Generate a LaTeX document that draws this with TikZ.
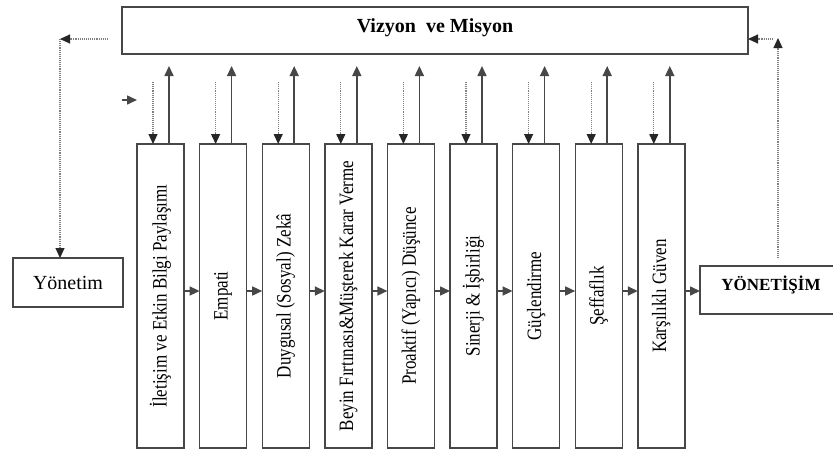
\documentclass[tikz,border=0pt]{standalone}
\usepackage{fontspec}
\setmainfont{Liberation Serif}
\usetikzlibrary{arrows.meta,calc}
\begin{document}
\begin{tikzpicture}[x=1pt,y=-1pt,
  linecol/.style={draw=black!72},
  boxst/.style={linecol,line width=1.4pt,inner sep=0pt,outer sep=0pt},
  colbox/.style={boxst,minimum width=47pt,minimum height=304pt},
  coltxt/.style={rotate=90,font=\fontsize{17}{20}\selectfont,text=black,inner sep=0pt},
  solidarr/.style={linecol,line width=1.6pt,-{Triangle[length=10pt,width=9pt]}},
  dotarr/.style={draw=black!50,line width=1.1pt,densely dotted,-{Triangle[length=10pt,width=9pt,color=black!85,fill=black!85]}}]
\useasboundingbox (0,0) rectangle (833,453);
\fill[white] (0,0) rectangle (833,453);
% top box
\node[boxst,minimum width=626pt,minimum height=47pt] (vm) at (435,30.5) {};
\node[font=\fontsize{20}{23}\selectfont\bfseries,text=black] (vmt) at (435,28) {Vizyon\ \ ve Misyon};
% columns
\foreach \i/\t in {1/{İletişim ve Etkin Bilgi Paylaşımı},2/{Empati},3/{Duygusal (Sosyal) Zekâ},4/{Beyin Fırtınası\&Müşterek Karar Verme},5/{Proaktif (Yapıcı) Düşünce},6/{Sinerji \& İşbirliği},7/{Güçlendirme},8/{Şeffaflık},9/{Karşılıklı Güven}}{
  \node[colbox] (b\i) at ({160.5+62.6*(\i-1)},296) {};
  \node[coltxt] (l\i) at (b\i) {\scalebox{1}[1.2]{\t}};
  \draw[dotarr] ([xshift=16pt,yshift=62pt]b\i.north west) -- ([xshift=16pt]b\i.north west);
  \draw[solidarr] ([xshift=32pt]b\i.north west) -- ([xshift=32pt,yshift=78pt]b\i.north west);
}
\foreach \i/\j in {1/2,2/3,3/4,4/5,5/6,6/7,7/8,8/9}{
  \draw[solidarr] ([yshift=5pt]b\i.east) -- ([yshift=5pt]b\j.west);
}
% side boxes
\node[boxst,minimum width=110pt,minimum height=49pt,font=\fontsize{20}{23}\selectfont,text=black] (yon) at (68,282.5) {Yönetim};
\node[boxst,minimum width=140pt,minimum height=48pt] (yns) at (770,290) {};
\node[font=\fontsize{17}{20}\selectfont\bfseries,text=black] (ynst) at (771,285) {YÖNETİŞİM};
\draw[solidarr] ([yshift=5pt]b9.east) -- ([yshift=5pt]b9.east -| yns.west);
% small arrow
\coordinate (sa1) at (122,100);
\coordinate (sa2) at (137,100);
\draw[solidarr] (sa1) -- (sa2);
% left feedback
\coordinate (lc) at (60,39);
\coordinate (ls) at (108,39);
\draw[dotarr] (ls) -- (lc);
\draw[dotarr] (lc) -- (yon.north -| lc);
% right feedback
\coordinate (rb) at (778,258);
\coordinate (rc) at (778,38);
\coordinate (rs) at (773,39);
\draw[dotarr] (rb) -- (rc);
\draw[dotarr] (rs) -- (rs -| vm.east);
\end{tikzpicture}
\end{document}
